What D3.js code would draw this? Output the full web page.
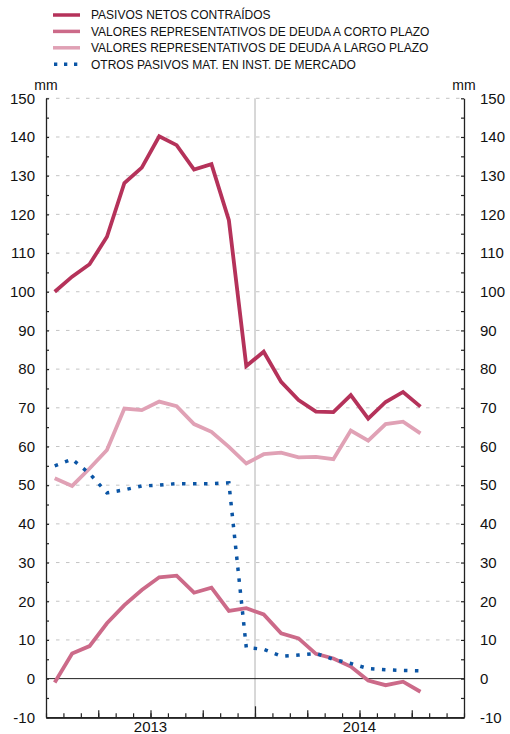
<!DOCTYPE html>
<html>
<head>
<meta charset="utf-8">
<script src="https://cdn.jsdelivr.net/npm/d3@7"></script>
<style>
  body { margin: 0; background: #fff; }
  svg { display: block; font-family: "Liberation Sans", Arial, Helvetica, sans-serif; }
</style>
</head>
<body>
<svg id="chart" width="510" height="734"></svg>
<script>
// ---- data ----
const months = ["2013-01","2013-02","2013-03","2013-04","2013-05","2013-06","2013-07","2013-08","2013-09","2013-10","2013-11","2013-12",
                "2014-01","2014-02","2014-03","2014-04","2014-05","2014-06","2014-07","2014-08","2014-09","2014-10"];
const pasivosNetos = [100.0, 103.9, 107.1, 114.2, 128.1, 132.1, 140.2, 137.9, 131.6, 133.0, 118.5, 80.8,
                      84.5, 76.7, 72.0, 69.0, 68.9, 73.3, 67.2, 71.5, 74.1, 70.3];
const cortoPlazo = [-1.0, 6.5, 8.4, 14.3, 19.0, 22.9, 26.2, 26.6, 22.2, 23.5, 17.5, 18.2,
                    16.6, 11.7, 10.4, 6.4, 5.2, 3.1, -0.5, -1.7, -0.8, -3.4];
const largoPlazo = [51.8, 49.8, 54.3, 59.1, 69.8, 69.4, 71.6, 70.4, 65.8, 63.8, 59.9, 55.6,
                    58.0, 58.4, 57.2, 57.3, 56.7, 64.1, 61.5, 65.8, 66.4, 63.4];
const otrosPasivos = [55.0, 56.7, 53.0, 48.0, 48.8, 49.8, 50.0, 50.4, 50.4, 50.4, 50.6, 8.0,
                      7.6, 5.8, 6.1, 6.5, 5.0, 3.9, 2.6, 2.3, 2.1, 2.0];
const yTicks = [-10, 0, 10, 20, 30, 40, 50, 60, 70, 80, 90, 100, 110, 120, 130, 140, 150];
const yearLabels = ["2013", "2014"];
const seriesNames = ["PASIVOS NETOS CONTRAÍDOS",
                     "VALORES REPRESENTATIVOS DE DEUDA A CORTO PLAZO",
                     "VALORES REPRESENTATIVOS DE DEUDA A LARGO PLAZO",
                     "OTROS PASIVOS MAT. EN INST. DE MERCADO"];

// ---- layout ----
const svg = d3.select("#chart");
const L = 46, R = 464, T = 98.3, B = 717.3;
const x = d3.scaleLinear().domain([0, 24]).range([L, R]);
const y = d3.scaleLinear().domain([-10, 150]).range([B, T]);

const colors = ["#B5325A", "#CC6A89", "#E0A1B5", "#0B55A5"];

// gridlines
svg.append("g").selectAll("line")
  .data(yTicks.filter(v => v > 0))
  .join("line")
  .attr("x1", L).attr("x2", R)
  .attr("y1", d => y(d)).attr("y2", d => y(d))
  .attr("stroke", "#c4c4c4").attr("stroke-width", 1)
  .attr("stroke-dasharray", "3.5,6.5");

// vertical year separator
svg.append("line")
  .attr("x1", x(12)).attr("x2", x(12))
  .attr("y1", T).attr("y2", B)
  .attr("stroke", "#b0b0b0").attr("stroke-width", 1);

// zero line
svg.append("line")
  .attr("x1", L).attr("x2", R)
  .attr("y1", y(0)).attr("y2", y(0))
  .attr("stroke", "#222").attr("stroke-width", 1);

// left axis
const minorY = d3.range(-10, 151, 5);
const fmt = d => String(d);
const leftAxis = svg.append("g").attr("transform", `translate(${L},0)`)
  .call(d3.axisLeft(y).tickValues(minorY).tickSizeInner(-3).tickSizeOuter(0).tickFormat(""));
const leftLabels = svg.append("g").attr("transform", `translate(${L},0)`)
  .call(d3.axisLeft(y).tickValues(yTicks).tickSizeInner(0).tickSizeOuter(0).tickPadding(11).tickFormat(fmt));
leftLabels.select(".domain").remove();

// right axis
const rightAxis = svg.append("g").attr("transform", `translate(${R},0)`)
  .call(d3.axisRight(y).tickValues(minorY).tickSizeInner(-3).tickSizeOuter(0).tickFormat(""));
const rightLabels = svg.append("g").attr("transform", `translate(${R},0)`)
  .call(d3.axisRight(y).tickValues(yTicks).tickSizeInner(0).tickSizeOuter(0).tickPadding(16).tickFormat(fmt));
rightLabels.select(".domain").remove();

[leftAxis, rightAxis].forEach(g => {
  g.select(".domain").attr("stroke", "#222").attr("stroke-width", 1.3);
  g.selectAll(".tick line").attr("stroke", "#222").attr("stroke-width", 1.2);
});
[leftLabels, rightLabels].forEach(g => {
  g.selectAll("text").attr("font-size", 15).attr("fill", "#111")
    .attr("font-family", "'Liberation Sans', Arial, sans-serif");
});

// bottom axis: monthly, quarterly, yearly ticks pointing up
const monthT = d3.range(0, 25);
const quarterT = monthT.filter(d => d % 3 === 0 && d % 12 !== 0);
const yearT = [0, 12, 24];
[[monthT, -4], [quarterT, -7], [yearT.filter(d => d === 12), -11]].forEach(([vals, sz]) => {
  const g = svg.append("g").attr("transform", `translate(0,${B})`)
    .call(d3.axisBottom(x).tickValues(vals).tickSizeInner(sz).tickSizeOuter(0).tickFormat(""));
  g.select(".domain").attr("stroke", "#222").attr("stroke-width", 1.3);
  g.selectAll(".tick line").attr("stroke", "#222").attr("stroke-width", 1.2);
});

// year labels
svg.append("g").selectAll("text")
  .data(yearLabels)
  .join("text")
  .attr("x", (d, i) => x(i * 12 + 6))
  .attr("y", B + 15)
  .attr("text-anchor", "middle")
  .attr("font-size", 15).attr("fill", "#111")
  .text(d => d);

// mm labels
[L, R].forEach(px => {
  svg.append("text").attr("x", px).attr("y", 90)
    .attr("text-anchor", "middle").attr("font-size", 14).attr("fill", "#111")
    .text("mm");
});

// series lines
const line = d3.line().x((d, i) => x(i + 0.5)).y(d => y(d));
const seriesData = [largoPlazo, cortoPlazo, pasivosNetos, otrosPasivos];
const seriesColorIdx = [2, 1, 0, 3];
seriesData.forEach((s, k) => {
  const ci = seriesColorIdx[k];
  const p = svg.append("path")
    .datum(s)
    .attr("d", line)
    .attr("fill", "none")
    .attr("stroke", colors[ci]);
  if (ci === 3) {
    p.attr("stroke-width", 3.5).attr("stroke-dasharray", "3.5,7.5");
  } else {
    p.attr("stroke-width", 3.8).attr("stroke-linejoin", "miter");
  }
});

// legend
const lg = svg.append("g");
seriesNames.forEach((name, i) => {
  const cy = 15 + i * 16.4;
  const ln = lg.append("line")
    .attr("x1", 53).attr("x2", 80)
    .attr("y1", cy).attr("y2", cy)
    .attr("stroke", colors[i]).attr("stroke-width", 3.5);
  if (i === 3) ln.attr("stroke-dasharray", "3.3,6.7").attr("x1", 54);
  lg.append("text")
    .attr("x", 91).attr("y", cy + 4.3)
    .attr("font-size", 12).attr("fill", "#111")
    .text(name);
});
</script>
</body>
</html>
